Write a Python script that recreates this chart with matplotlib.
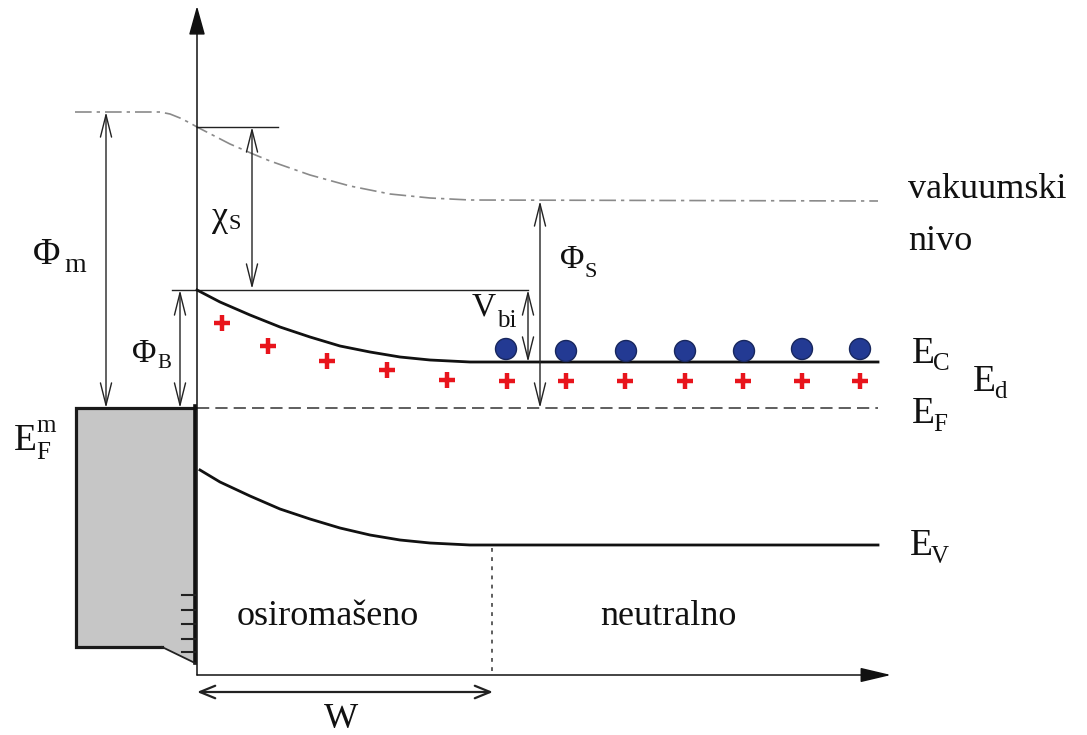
import numpy as np
import matplotlib
matplotlib.use('agg')
import matplotlib.pyplot as plt
from matplotlib.patches import Polygon, Circle, FancyArrowPatch

plt.rcParams['font.family'] = ['Liberation Serif', 'DejaVu Serif']

# band edges (pixel units, y grows downwards)
ec_x = [197, 220, 250, 280, 310, 340, 370, 400, 430, 470, 878]
ec_y = [290, 302, 315, 327, 337, 346, 352, 357, 360, 362, 362]
ev_x = [200, 220, 250, 280, 310, 340, 370, 400, 430, 470, 878]
ev_y = [470, 482, 496, 509, 519, 528, 535, 540, 543, 545, 545]
vac_x = [75, 160, 170, 180, 190, 197, 230, 253, 270, 310, 350, 390, 430, 470, 878]
vac_y = [112, 112, 114, 118, 123, 127, 144, 154, 161, 175, 186, 194, 198, 200, 201]
ef_y = 408
x_junction = 197
x_depl = 492

# charges
plus_x = [222, 268, 327, 387, 447, 507, 566, 625, 685, 743, 802, 860]
plus_y = [323, 346, 361, 370, 380, 381, 381, 381, 381, 381, 381, 381]
elec_x = [506, 566, 626, 685, 744, 802, 860]
elec_y = [349, 351, 351, 351, 351, 349, 349]

# metal block and its interface states
metal = [(76, 408), (195, 408), (195, 663), (162, 647), (76, 647)]
state_y = [595, 610, 624, 639, 652]

fig = plt.figure(figsize=(10.87, 7.35), dpi=100)
ax = fig.add_axes([0, 0, 1, 1])
ax.set_xlim(0, 1087)
ax.set_ylim(735, 0)
ax.axis('off')

# metal
ax.add_patch(Polygon(metal, closed=True, facecolor='#c6c6c6', edgecolor='none', zorder=1))
ax.plot([162, 76, 76, 195], [647, 647, 408, 408], color='#1a1a1a', lw=2.3, zorder=3,
        solid_joinstyle='miter')
ax.plot([195, 195], [406, 663], color='#111111', lw=2.6, zorder=3)
ax.plot([162, 195], [647, 663], color='#222222', lw=1.3, zorder=3)
for sy in state_y:
    ax.plot([182, 195], [sy, sy], color='#222222', lw=1.5, zorder=3)

# coordinate axes
ax.add_patch(FancyArrowPatch((197, 675), (197, 6), arrowstyle='-|>,head_length=1.8,head_width=0.5',
                             mutation_scale=10, color='#111111', lw=1.1, shrinkA=0, shrinkB=0, zorder=4))
ax.add_patch(FancyArrowPatch((197, 675), (891, 675), arrowstyle='-|>,head_length=1.9,head_width=0.45',
                             mutation_scale=10, color='#111111', lw=1.1, shrinkA=0, shrinkB=0, zorder=4))

# levels
ax.plot(ec_x, ec_y, color='#111111', lw=2.0, zorder=3)
ax.plot(ev_x, ev_y, color='#111111', lw=2.0, zorder=3)
ax.plot([197, 878], [ef_y, ef_y], color='#333333', lw=1.1, dashes=(8, 4), zorder=2)
ax.plot(vac_x, vac_y, color='#8a8a8a', lw=1.2, dashes=(10, 3, 2, 3), zorder=2)
ax.plot([x_depl, x_depl], [548, 675], color='#333333', lw=1.1, dashes=(2.5, 3.5), zorder=2)

# reference lines
ax.plot([197, 278], [127, 127], color='#222222', lw=1.0)
ax.plot([172, 528], [290, 290], color='#222222', lw=1.0)


def dim(x0, y0, x1, y1, hl=1.6, hw=0.4, lw=1.0):
    ax.add_patch(FancyArrowPatch((x0, y0), (x1, y1),
                                 arrowstyle='<->,head_length=%g,head_width=%g' % (hl, hw),
                                 mutation_scale=10, color='#222222', lw=lw,
                                 shrinkA=0, shrinkB=0, zorder=4))


dim(106, 112, 106, 408)   # phi m
dim(180, 290, 180, 408)   # phi B
dim(252, 127, 252, 289)   # chi S
dim(528, 290, 528, 362)   # V bi
dim(540, 201, 540, 408)   # phi S
dim(197, 692, 493, 692, hl=1.1, hw=0.45, lw=1.6)   # W

# charges
ax.plot(plus_x, plus_y, '+', ms=12, mew=3.2, color='#e8141c', zorder=5)
for cx, cy in zip(elec_x, elec_y):
    ax.add_patch(Circle((cx, cy), 10.5, facecolor='#233a93', edgecolor='#18275e', lw=1.0, zorder=5))


def label(x, y, base, size, sub=None, sub_dx=0, sub_dy=0, sub_size=None, sup=None, sup_dy=0):
    ax.text(x, y, base, fontsize=size, ha='left', va='baseline', color='#111111')
    if sub:
        ax.text(x + sub_dx, y + sub_dy, sub, fontsize=sub_size, ha='left', va='baseline', color='#111111')
    if sup:
        ax.text(x + sub_dx, y - sup_dy, sup, fontsize=sub_size, ha='left', va='baseline', color='#111111')


label(908, 198, 'vakuumski', 26)
label(908, 250, 'nivo', 26)
label(33, 264, 'Φ', 27, 'm', 31, 8, 20)
label(132, 362, 'Φ', 24, 'B', 25, 6, 15)
label(212, 226, 'χ', 26, 'S', 17, 3, 16)
label(560, 268, 'Φ', 24, 'S', 25, 9, 16)
label(472, 315, 'V', 24, 'bi', 25, 12, 18)
label(912, 363, 'E', 27, 'C', 21, 7, 18)
label(973, 391, 'E', 27, 'd', 21, 7, 18)
label(912, 423, 'E', 27, 'F', 21, 8, 18)
label(910, 555, 'E', 27, 'V', 21, 8, 18)
label(14, 450, 'E', 27, 'F', 22, 9, 18, sup='m', sup_dy=18)
label(237, 625, 'osiromašeno', 26)
label(600, 625, 'neutralno', 26)
label(324, 728, 'W', 26)

fig.savefig('out.png', dpi=100)
